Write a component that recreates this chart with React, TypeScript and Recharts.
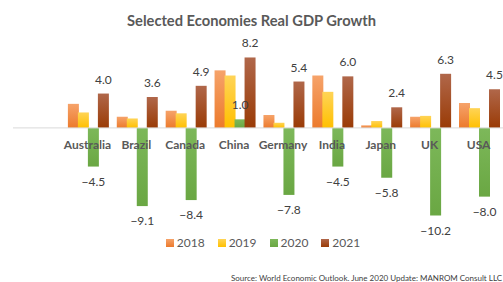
import React from "react";
import { BarChart, Bar, XAxis, YAxis, ReferenceLine, LabelList } from "recharts";

const countries = ["Australia", "Brazil", "Canada", "China", "Germany", "India", "Japan", "UK", "USA"];
const years = ["2018", "2019", "2020", "2021"];
const gdp2018 = [2.8, 1.3, 2.0, 6.7, 1.5, 6.1, 0.3, 1.3, 2.9];
const gdp2019 = [1.8, 1.1, 1.7, 6.1, 0.6, 4.2, 0.8, 1.4, 2.3];
const gdp2020 = [-4.5, -9.1, -8.4, 1.0, -7.8, -4.5, -5.8, -10.2, -8.0];
const gdp2021 = [4.0, 3.6, 4.9, 8.2, 5.4, 6.0, 2.4, 6.3, 4.5];

const W = 503;
const H = 282;
const X_AXIS_H = 20;
const MARGIN = { top: 42, right: 0, left: 13, bottom: 51 - X_AXIS_H };
const Y_DOMAIN: [number, number] = [-12, 10];
const plotH = H - MARGIN.top - MARGIN.bottom - X_AXIS_H;
const zeroY = MARGIN.top + (plotH * Y_DOMAIN[1]) / (Y_DOMAIN[1] - Y_DOMAIN[0]);
const plotBottom = MARGIN.top + plotH;

const FONT = "Lato, 'Open Sans', sans-serif";

const colors: Record<string, [string, string]> = {
  "2018": ["#F6A36A", "#EC7A2C"],
  "2019": ["#FFD457", "#FFC000"],
  "2020": ["#7DB85A", "#6AA743"],
  "2021": ["#B0674A", "#9A3B06"],
};

const data = countries.map((c, i) => ({
  name: c,
  "2018": gdp2018[i],
  "2019": gdp2019[i],
  "2020": gdp2020[i],
  "2021": gdp2021[i],
}));

const fmt = (v: number) => (v < 0 ? "\u2212" + Math.abs(v).toFixed(1) : v.toFixed(1));

function ValueLabel(props: any) {
  const { x, y, width, height, value } = props;
  const top = Math.min(y, y + height);
  const bottom = Math.max(y, y + height);
  const cx = x + width / 2;
  const ty = value >= 0 ? top - 10 : bottom + 19;
  return (
    <text x={cx} y={ty} textAnchor="middle" fill="#404040" fontSize={12} fontFamily={FONT}>
      {fmt(value)}
    </text>
  );
}

// category names sit just under the zero line, not at the plot bottom
function CountryTick(props: any) {
  const { x, y, payload } = props;
  const shift = zeroY - plotBottom;
  return (
    <text x={x} y={y + shift + 13} textAnchor="middle" fill="#595959" fontSize={12} fontWeight="bold" fontFamily={FONT}>
      {payload.value}
    </text>
  );
}

export default function App() {
  return (
    <div style={{ position: "absolute", left: 0, top: 0, width: W, height: H, overflow: "hidden", fontFamily: FONT }}>
      <div
        style={{
          position: "absolute",
          top: 10,
          left: 0,
          width: W,
          textAlign: "center",
          fontSize: 14.7,
          fontWeight: "bold",
          color: "#595959",
          lineHeight: "20px",
        }}
      >
        Selected Economies Real GDP Growth
      </div>
      <BarChart width={W} height={H} data={data} margin={MARGIN} barCategoryGap="10%" barGap={-1}>
        <defs>
          {years.map((yr) => (
            <linearGradient key={yr} id={"g" + yr} x1="0" y1="0" x2="0" y2="1">
              <stop offset="0%" stopColor={colors[yr][0]} />
              <stop offset="100%" stopColor={colors[yr][1]} />
            </linearGradient>
          ))}
        </defs>
        <XAxis
          dataKey="name"
          height={X_AXIS_H}
          axisLine={false}
          tickLine={false}
          interval={0}
          padding={{ left: 50, right: 0 }}
          tick={<CountryTick />}
          {...({ zIndex: 100 } as any)}
        />
        <YAxis hide domain={Y_DOMAIN} />
        <ReferenceLine y={0} stroke="#D9D9D9" strokeWidth={1} />
        {years.map((yr) => (
          <Bar key={yr} dataKey={yr} fill={"url(#g" + yr + ")"} isAnimationActive={false}>
            {(yr === "2020" || yr === "2021") && <LabelList dataKey={yr} content={<ValueLabel />} />}
          </Bar>
        ))}
      </BarChart>
      <div
        style={{
          position: "absolute",
          top: 235,
          left: 0,
          width: W,
          display: "flex",
          justifyContent: "center",
          paddingLeft: 36,
          boxSizing: "border-box",
          fontSize: 12,
          color: "#595959",
          lineHeight: "16px",
        }}
      >
        {years.map((yr) => (
          <div key={yr} style={{ display: "flex", alignItems: "center", marginRight: 13 }}>
            <span
              style={{
                display: "inline-block",
                width: 8,
                height: 8,
                marginRight: 3,
                background: `linear-gradient(${colors[yr][0]}, ${colors[yr][1]})`,
              }}
            />
            {yr}
          </div>
        ))}
      </div>
      <div
        style={{
          position: "absolute",
          top: 272,
          left: 231,
          whiteSpace: "nowrap",
          fontSize: 8,
          color: "#404040",
          lineHeight: "12px",
        }}
      >
        Source: World Economic Outlook. June 2020 Update: MANROM Consult LLC
      </div>
    </div>
  );
}
